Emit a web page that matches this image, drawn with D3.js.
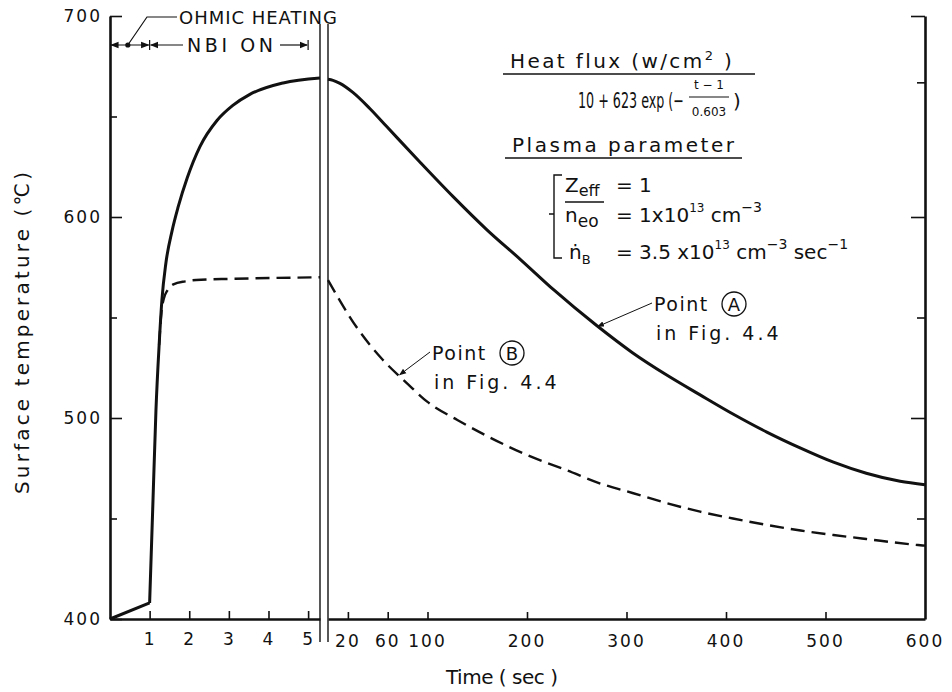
<!DOCTYPE html>
<html>
<head>
<meta charset="utf-8">
<script src="https://cdn.jsdelivr.net/npm/d3@7"></script>
<style>
  body { margin: 0; background: #fff; }
  text { font-family: "DejaVu Sans", sans-serif; fill: #111; }
</style>
</head>
<body>
<svg id="chart" width="952" height="692"></svg>
<script>
// ---- data ----
// solid curve = Point A, dashed curve = Point B
const solidLeftT = [0, 1, 1.085, 1.16, 1.24, 1.31, 1.41, 1.565, 1.72, 1.95, 2.27, 2.7, 3.1, 3.53, 4.37, 5.3];
const solidLeftV = [400, 408, 459, 504, 536.3, 558.7, 577, 593, 605, 619.5, 635, 648, 655.5, 661, 666.7, 669.2];
const dashLeftT = [1.24, 1.3, 1.36, 1.45, 1.6, 1.9, 2.3, 3, 5.3];
const dashLeftV = [536.3, 553, 559.5, 563.5, 566.5, 568, 568.8, 569.2, 570];
const solidRightT = [0, 5, 12, 25, 42, 59, 93, 126, 160, 194, 227, 270, 306, 340, 374, 407, 441, 475, 508, 541, 575, 600];
const solidRightV = [668.5, 668, 666.5, 662, 654, 645, 627, 610, 593.5, 578.6, 563.7, 546, 532.5, 521.5, 511.5, 502, 493, 485, 478, 472.5, 468.5, 466.8];
const dashRightT = [0, 29, 55, 80, 100, 130, 160, 200, 240, 273, 306, 340, 374, 407, 441, 475, 508, 541, 593, 600];
const dashRightV = [568.6, 545, 529, 517, 508, 499, 491, 481.6, 474, 467.5, 462.7, 457.7, 453.4, 450, 446.8, 444, 441.8, 439.8, 436.8, 436.5];

const yLabels = [400, 500, 600, 700];
const yMinor = [450, 550, 650];
const rightMajor = [500, 600, 700];
const rightMinor = [450, 550, 667];
const xLeftTicks = [1, 2, 3, 4, 5];
const xRightTicks = [20, 60, 100, 200, 300, 400, 500];
const xRightLabels = [20, 60, 100, 200, 300, 400, 500, 600];

const svg = d3.select("#chart");

const xL = d3.scaleLinear().domain([0, 5.3]).range([110, 320]);
const xR = d3.scaleLinear().domain([0, 600]).range([328, 925]);
const y = d3.scaleLinear().domain([400, 700]).range([619, 16]);

// ---- axes ----
const styleAxis = (g, w) => {
  g.select(".domain").attr("stroke", "#111").attr("stroke-width", w);
  g.selectAll(".tick line").attr("stroke", "#111").attr("stroke-width", 1.6);
  g.selectAll(".tick text")
    .style("font-size", "17px")
    .style("letter-spacing", "2px")
    .attr("fill", "#111");
};

svg.append("g")
  .attr("transform", "translate(110,0)")
  .call(d3.axisLeft(y).tickValues(yLabels).tickSize(-12).tickSizeOuter(0).tickPadding(8))
  .call(g => styleAxis(g, 2.6));

svg.append("g")
  .attr("transform", "translate(110,0)")
  .call(d3.axisLeft(y).tickValues(yMinor).tickSize(-7).tickFormat("").tickSizeOuter(0))
  .call(g => { g.select(".domain").remove(); styleAxis(g, 0); });

svg.append("g")
  .attr("transform", "translate(925,0)")
  .call(d3.axisRight(y).tickValues(rightMajor).tickSize(-14).tickFormat("").tickSizeOuter(0))
  .call(g => styleAxis(g, 2.6));

svg.append("g")
  .attr("transform", "translate(925,0)")
  .call(d3.axisRight(y).tickValues(rightMinor).tickSize(-8).tickFormat("").tickSizeOuter(0))
  .call(g => { g.select(".domain").remove(); styleAxis(g, 0); });

svg.append("g")
  .attr("transform", "translate(0,619)")
  .call(d3.axisBottom(xL).tickValues(xLeftTicks).tickFormat(d3.format("d"))
    .tickSize(-8).tickSizeOuter(0).tickPadding(14))
  .call(g => styleAxis(g, 2.6));

const bottomR = svg.append("g")
  .attr("transform", "translate(0,619)")
  .call(d3.axisBottom(xR).tickValues(xRightTicks).tickSize(-7).tickFormat("").tickSizeOuter(0))
  .call(g => styleAxis(g, 2.6));

bottomR.selectAll(".lbl")
  .data(xRightLabels)
  .enter().append("text")
  .attr("x", d => xR(d))
  .attr("y", 28)
  .attr("text-anchor", "middle")
  .style("font-size", "17px")
  .style("letter-spacing", "2px")
  .text(d => d);

// axis break (two parallel lines)
svg.selectAll(".brk")
  .data([xL(5.3), xR(0)])
  .enter().append("line")
  .attr("x1", d => d).attr("x2", d => d)
  .attr("y1", 24).attr("y2", 642)
  .attr("stroke", "#111").attr("stroke-width", 1.4);

// ---- curves ----
const zip = (t, v) => t.map((d, i) => [d, v[i]]);
const lineL = d3.line().x(d => xL(d[0])).y(d => y(d[1])).curve(d3.curveMonotoneX);
const lineR = d3.line().x(d => xR(d[0])).y(d => y(d[1])).curve(d3.curveMonotoneX);
const lineLin = d3.line().x(d => xL(d[0])).y(d => y(d[1]));

const sL = zip(solidLeftT, solidLeftV);
svg.append("path")
  .attr("d", lineLin(sL.slice(0, 2)) + lineL(sL.slice(1)))
  .attr("fill", "none").attr("stroke", "#111").attr("stroke-width", 3)
  .attr("stroke-linejoin", "round");

svg.append("path")
  .attr("d", lineR(zip(solidRightT, solidRightV)))
  .attr("fill", "none").attr("stroke", "#111").attr("stroke-width", 3);

svg.append("path")
  .attr("d", lineL(zip(dashLeftT, dashLeftV)))
  .attr("fill", "none").attr("stroke", "#111").attr("stroke-width", 2.4)
  .attr("stroke-dasharray", "14,7");

svg.append("path")
  .attr("d", lineR(zip(dashRightT, dashRightV)))
  .attr("fill", "none").attr("stroke", "#111").attr("stroke-width", 2.4)
  .attr("stroke-dasharray", "14,7");

// ---- axis titles ----
svg.append("text")
  .attr("transform", "translate(29,333) rotate(-90)")
  .attr("text-anchor", "middle")
  .attr("textLength", 322).attr("lengthAdjust", "spacing")
  .style("font-size", "20px")
  .text("Surface temperature (℃)");

svg.append("text")
  .attr("x", 446).attr("y", 684)
  .attr("textLength", 112).attr("lengthAdjust", "spacing")
  .style("font-size", "20px")
  .text("Time  ( sec )");

// ---- arrow markers ----
const defs = svg.append("defs");
defs.append("marker")
  .attr("id", "arr").attr("viewBox", "0 0 10 10")
  .attr("refX", 9).attr("refY", 5)
  .attr("markerWidth", 7).attr("markerHeight", 7)
  .attr("orient", "auto-start-reverse")
  .append("path").attr("d", "M0,1 L10,5 L0,9 Z").attr("fill", "#111");

// ---- phase annotation ----
const rowY = 45;
svg.append("line")
  .attr("x1", xL(0) + 1).attr("x2", xL(1) - 1).attr("y1", rowY).attr("y2", rowY)
  .attr("stroke", "#111").attr("stroke-width", 1.2)
  .attr("marker-start", "url(#arr)").attr("marker-end", "url(#arr)");
svg.append("circle").attr("cx", xL(0.45)).attr("cy", rowY).attr("r", 2.6).attr("fill", "#111");
svg.append("line")
  .attr("x1", xL(1)).attr("x2", xL(1)).attr("y1", rowY - 5).attr("y2", rowY + 5)
  .attr("stroke", "#111").attr("stroke-width", 1.2);
svg.append("line")
  .attr("x1", xL(5)).attr("x2", xL(5)).attr("y1", rowY - 5).attr("y2", rowY + 5)
  .attr("stroke", "#111").attr("stroke-width", 1.2);
svg.append("line")
  .attr("x1", 183).attr("x2", xL(1) + 1).attr("y1", rowY).attr("y2", rowY)
  .attr("stroke", "#111").attr("stroke-width", 1.2).attr("marker-end", "url(#arr)");
svg.append("line")
  .attr("x1", 280).attr("x2", xL(5) - 1).attr("y1", rowY).attr("y2", rowY)
  .attr("stroke", "#111").attr("stroke-width", 1.2).attr("marker-end", "url(#arr)");
svg.append("text")
  .attr("x", 187).attr("y", rowY + 7)
  .attr("textLength", 86).attr("lengthAdjust", "spacing")
  .style("font-size", "19px")
  .text("NBI ON");

svg.append("polyline")
  .attr("points", [[xL(0.45), rowY], [147, 17], [177, 17]].join(" "))
  .attr("fill", "none").attr("stroke", "#111").attr("stroke-width", 1.2);
svg.append("text")
  .attr("x", 179).attr("y", 24)
  .attr("textLength", 158).attr("lengthAdjust", "spacing")
  .style("font-size", "18px")
  .text("OHMIC HEATING");

// ---- heat flux / plasma parameter block ----
svg.append("text")
  .attr("x", 510).attr("y", 68)
  .style("font-size", "20px").style("letter-spacing", "2.4px")
  .call(t => {
    t.append("tspan").text("Heat  flux  (w/cm");
    t.append("tspan").attr("dy", -8).style("font-size", "13px").text("2");
    t.append("tspan").attr("dy", 8).text(" )");
  });
svg.append("line").attr("x1", 503).attr("x2", 755).attr("y1", 74).attr("y2", 74)
  .attr("stroke", "#111").attr("stroke-width", 1.6);

// formula, squeezed horizontally to the width it has in the figure
const formula = svg.append("text")
  .style("font-size", "21px")
  .text("10 + 623 exp (−");
const fw = formula.node().getComputedTextLength();
formula.attr("transform", `translate(578,108) scale(${106 / fw},1)`);

svg.append("text").attr("x", 709).attr("y", 89).attr("text-anchor", "middle")
  .style("font-size", "12px").text("t − 1");
svg.append("line").attr("x1", 689).attr("x2", 729).attr("y1", 97).attr("y2", 97)
  .attr("stroke", "#111").attr("stroke-width", 1.2);
svg.append("text").attr("x", 709).attr("y", 116).attr("text-anchor", "middle")
  .style("font-size", "12px").text("0.603");
svg.append("text").attr("x", 733).attr("y", 108)
  .style("font-size", "20px").text(")");

svg.append("text")
  .attr("x", 512).attr("y", 152)
  .attr("textLength", 222).attr("lengthAdjust", "spacing")
  .style("font-size", "20px")
  .text("Plasma parameter");
svg.append("line").attr("x1", 505).attr("x2", 742).attr("y1", 158).attr("y2", 158)
  .attr("stroke", "#111").attr("stroke-width", 1.6);

svg.append("path")
  .attr("d", "M562,175 L554,175 L554,258 L562,258 M549,214 L554,214")
  .attr("fill", "none").attr("stroke", "#111").attr("stroke-width", 1.4);

const row = (yy, build) => svg.append("text").attr("x", 565).attr("y", yy)
  .style("font-size", "20px").call(build);

row(192, t => {
  t.append("tspan").text("Z");
  t.append("tspan").attr("dy", 4).style("font-size", "16px").text("eff");
  t.append("tspan").attr("x", 616).attr("dy", -4).text("=  1");
});
svg.append("line").attr("x1", 565).attr("x2", 604).attr("y1", 202).attr("y2", 202)
  .attr("stroke", "#111").attr("stroke-width", 1.4);
row(222, t => {
  t.append("tspan").text("n");
  t.append("tspan").attr("dy", 5).style("font-size", "17px").text("eo");
  t.append("tspan").attr("x", 616).attr("dy", -5).text("= 1x10");
  t.append("tspan").attr("dy", -10).style("font-size", "12px").text("13");
  t.append("tspan").attr("dy", 10).text(" cm");
  t.append("tspan").attr("dy", -10).style("font-size", "14px").text("−3");
});
row(259, t => {
  t.append("tspan").attr("x", 569).text("ṅ");
  t.append("tspan").attr("dy", 5).style("font-size", "13px").text("B");
  t.append("tspan").attr("x", 616).attr("dy", -5).text("=  3.5 x10");
  t.append("tspan").attr("dy", -10).style("font-size", "12px").text("13");
  t.append("tspan").attr("dy", 10).text(" cm");
  t.append("tspan").attr("dy", -10).style("font-size", "14px").text("−3");
  t.append("tspan").attr("dy", 10).text("  sec");
  t.append("tspan").attr("dy", -10).style("font-size", "14px").text("−1");
});

// ---- point labels ----
const pointLabel = (x0, y0, letter, ax, ay) => {
  svg.append("text").attr("x", x0).attr("y", y0)
    .style("font-size", "19px").style("letter-spacing", "1.5px").text("Point");
  svg.append("circle").attr("cx", x0 + 80).attr("cy", y0 - 7).attr("r", 12)
    .attr("fill", "none").attr("stroke", "#111").attr("stroke-width", 1.3);
  svg.append("text").attr("x", x0 + 80).attr("y", y0).attr("text-anchor", "middle")
    .style("font-size", "18px").text(letter);
  svg.append("text").attr("x", x0 + 2).attr("y", y0 + 29)
    .style("font-size", "19px").style("letter-spacing", "3px").text("in  Fig. 4.4");
  svg.append("line").attr("x1", x0 - 2).attr("y1", y0 - 8).attr("x2", ax).attr("y2", ay)
    .attr("stroke", "#111").attr("stroke-width", 1)
    .attr("marker-end", "url(#arr)");
};
pointLabel(654, 311, "A", xR(271), y(546) + 1);
pointLabel(432, 360, "B", xR(72), y(521) - 1);
</script>
</body>
</html>
